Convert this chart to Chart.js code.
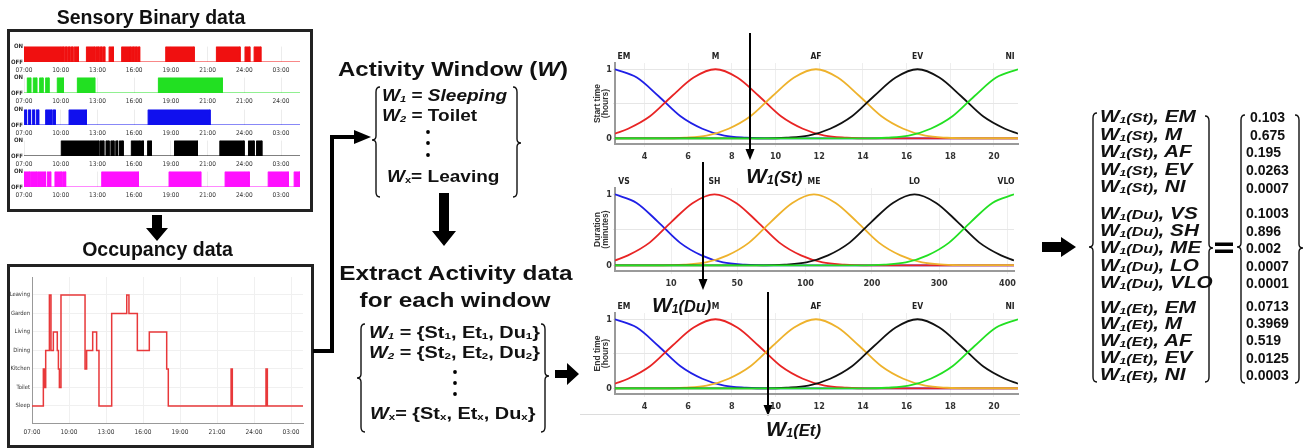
<!DOCTYPE html>
<html><head><meta charset="utf-8">
<script src="https://cdn.jsdelivr.net/npm/chart.js@4.4.0/dist/chart.umd.min.js"></script>
<style>
html,body{margin:0;padding:0;background:#fff;}
#stage{position:relative;width:1309px;height:448px;overflow:hidden;font-family:'Liberation Sans',Arial,sans-serif;}
.t{position:absolute;white-space:nowrap;font-weight:bold;color:#111;line-height:1;}
.t sub{font-size:0.58em;vertical-align:baseline;position:relative;top:0.12em;}
.t .g{font-size:0.78em;}
.box{position:absolute;border:3px solid #222;box-sizing:border-box;}
svg{position:absolute;left:0;top:0;}
</style></head><body>
<div id="stage">
  <div class="box" style="left:7px;top:29px;width:306px;height:183px"></div>
  <div class="box" style="left:7px;top:264px;width:307px;height:184px"></div>
</div>
<script>
// sensory strips: ON intervals in hours (after 24 -> next day)
const hourTicks = [7, 10, 13, 16, 19, 22, 25, 28];
const dayLabels = ['07:00', '10:00', '13:00', '16:00', '19:00', '21:00', '24:00', '03:00'];
const greenLabels = ['07:00', '10:00', '13:00', '16:00', '19:00', '21:00', '21:00', '24:00'];

const redOn = [[7.0, 10.05], [10.1, 10.25], [10.33, 10.5], [10.58, 10.75], [10.83, 11.0], [11.1, 11.45],
  [12.1, 12.8], [12.88, 13.1], [13.18, 13.35], [13.43, 13.6], [13.95, 14.3],
  [14.98, 15.7], [15.78, 15.95], [16.02, 16.2], [16.28, 16.45],
  [18.58, 20.9], [22.72, 24.65], [25.06, 25.45], [25.8, 26.35]];
const greenOn = [[7.27, 7.55], [7.76, 8.04], [8.28, 8.55], [8.77, 9.04], [9.72, 10.22], [11.36, 12.78], [17.98, 23.2]];
const blueOn = [[7.03, 7.2], [7.35, 7.52], [7.68, 7.85], [8.0, 8.2], [8.77, 9.25], [9.35, 9.55], [10.68, 12.1], [17.14, 22.2]];
const blackOn = [[10.05, 13.1], [13.2, 13.52], [13.7, 13.95], [14.1, 14.35], [14.5, 14.65], [14.8, 15.1],
  [15.77, 16.5], [16.6, 16.75], [17.1, 17.4], [19.3, 21.17], [23.0, 24.98], [25.34, 25.8], [26.0, 26.43]];
const magentaOn = [[7.0, 7.45], [7.52, 8.05], [8.12, 8.75], [8.9, 9.18], [9.53, 10.1], [10.18, 10.4],
  [13.35, 16.35], [18.85, 21.44], [23.43, 25.4], [26.95, 28.6], [29.07, 29.55]];

// occupancy: change times and new state index
const occStates = ['Sleep', 'Toilet', 'Kitchen', 'Dining', 'Living', 'Garden', 'Leaving'];
const occTimes = [7.0, 7.92, 8.0, 8.11, 8.41, 8.54, 8.73, 9.05, 9.14, 9.22, 9.35, 11.3, 11.43, 11.92, 12.24, 12.43,
  13.46, 14.68, 14.86, 15.54, 16.51, 17.92, 18.05, 23.14, 23.24, 25.97, 26.08, 28.97];
const occLevels = [0, 2, 1, 3, 6, 3, 4, 3, 2, 1, 6, 2, 3, 4, 3, 0, 5, 6, 5, 3, 4, 2, 0, 2, 0, 2, 0, 0];

// fuzzy membership curves
const timeLabels = ['EM', 'M', 'AF', 'EV', 'NI'];
const durLabels = ['VS', 'SH', 'ME', 'LO', 'VLO'];
const emPts = [[2.65, 1], [3.65, 0.88], [4.65, 0.61], [5.65, 0.32], [6.65, 0.14], [7.65, 0.04], [8.65, 0.01], [9.65, 0], [21.1, 0]];
const mPts = [[2.65, 0.07], [3.25, 0.14], [4.25, 0.32], [5.25, 0.61], [6.25, 0.88], [7.25, 1], [8.25, 0.88], [9.25, 0.61],
  [10.25, 0.32], [11.25, 0.14], [12.25, 0.04], [13.25, 0.01], [14.25, 0], [21.1, 0]];
const afPts = [[2.65, 0], [4.85, 0], [5.85, 0.01], [6.85, 0.04], [7.85, 0.14], [8.85, 0.32], [9.85, 0.61], [10.85, 0.88], [11.85, 1],
  [12.85, 0.88], [13.85, 0.61], [14.85, 0.32], [15.85, 0.14], [16.85, 0.04], [17.85, 0.01], [18.85, 0.003], [21.1, 0.003]];
const evPts = [[2.65, 0], [9.5, 0], [10.5, 0.01], [11.5, 0.04], [12.5, 0.14], [13.5, 0.32], [14.5, 0.61], [15.5, 0.88], [16.5, 1],
  [17.5, 0.88], [18.5, 0.61], [19.5, 0.32], [20.5, 0.14], [21.1, 0.07]];
const niPts = [[2.65, 0], [14.1, 0], [15.1, 0.01], [16.1, 0.04], [17.1, 0.14], [18.1, 0.32], [19.1, 0.61], [20.1, 0.88], [21.1, 1]];
const hourTickVals = [4, 6, 8, 10, 12, 14, 16, 18, 20];
const durTickPos = [5.24, 8.3, 11.46, 14.53, 17.64, 20.8];
const durTickLabels = [10, 50, 100, 200, 300, 400];

// window 1 membership degrees
const stVals = [0.103, 0.675, 0.195, 0.0263, 0.0007];
const duVals = [0.1003, 0.896, 0.002, 0.0007, 0.0001];
const etVals = [0.0713, 0.3969, 0.519, 0.0125, 0.0003];

const stage = document.getElementById('stage');
const narrow = "'Liberation Sans Narrow', 'DejaVu Sans Condensed', Arial, sans-serif";
Chart.defaults.font.family = "'Liberation Sans', Arial, sans-serif";
Chart.defaults.animation = false;

function mkCanvas(left, top, w, h) {
    const c = document.createElement('canvas');
    c.width = w; c.height = h;
    c.style.cssText = `position:absolute;left:${left}px;top:${top}px;width:${w}px;height:${h}px`;
    stage.appendChild(c);
    return c;
}

function strip(top, on, color, labels) {
    const pts = [{x: 7, y: 0}];
    on.forEach(([a, b]) => pts.push({x: a, y: 0}, {x: a, y: 1}, {x: b, y: 1}, {x: b, y: 0}));
    pts.push({x: 29.55, y: 0});
    new Chart(mkCanvas(10, top - 4, 292, 31), {
        type: 'line',
        data: {datasets: [{data: pts, borderColor: color, backgroundColor: color, borderWidth: 1, fill: 'origin', pointRadius: 0, tension: 0}]},
        options: {
            responsive: false, events: [],
            layout: {padding: {top: 4, right: 2, left: 0, bottom: 0}},
            plugins: {legend: {display: false}, tooltip: {enabled: false}},
            scales: {
                x: {type: 'linear', min: 7, max: 29.55,
                    afterBuildTicks: s => { s.ticks = hourTicks.map(v => ({value: v})); },
                    afterFit: s => { s.height = 11; },
                    border: {display: false},
                    grid: {color: '#ececec', drawTicks: false},
                    ticks: {autoSkip: false, maxRotation: 0, padding: 4, font: {size: 6.5, family: narrow}, color: '#333',
                        callback: (v, i) => labels[i]}},
                y: {min: 0, max: 1,
                    afterBuildTicks: s => { s.ticks = [{value: 0}, {value: 1}]; },
                    afterFit: s => { s.width = 14; },
                    border: {display: false}, grid: {display: false, drawTicks: false},
                    ticks: {padding: 1, font: {size: 6, weight: 'bold', family: narrow}, color: '#333',
                        callback: v => v === 1 ? 'ON' : 'OFF'}}
            }
        }
    });
}

strip(46, redOn, '#f01010', dayLabels);
strip(77, greenOn, '#22e022', greenLabels);
strip(108.5, blueOn, '#1010ee', dayLabels);
strip(140, blackOn, '#000000', dayLabels);
strip(171, magentaOn, '#ff10ff', dayLabels);

new Chart(mkCanvas(7, 270, 300, 167), {
    type: 'line',
    data: {datasets: [{data: occTimes.map((t, i) => ({x: t, y: occLevels[i]})), stepped: true,
        borderColor: '#e8383a', borderWidth: 1.5, pointRadius: 0, fill: false}]},
    options: {
        responsive: false, events: [],
        layout: {padding: {top: 7, right: 4, left: 0, bottom: 0}},
        plugins: {legend: {display: false}, tooltip: {enabled: false}},
        scales: {
            x: {type: 'linear', min: 7, max: 28.97,
                afterBuildTicks: s => { s.ticks = hourTicks.map(v => ({value: v})); },
                afterFit: s => { s.height = 14; },
                border: {color: '#999'},
                grid: {color: '#f0f0f0', drawTicks: false},
                ticks: {autoSkip: false, maxRotation: 0, padding: 5, font: {size: 6.5, family: narrow}, color: '#333',
                    callback: (v, i) => dayLabels[i]}},
            y: {min: -0.92, max: 6.97,
                afterBuildTicks: s => { s.ticks = occStates.map((n, i) => ({value: i})); },
                afterFit: s => { s.width = 25; },
                border: {color: '#999'},
                grid: {color: '#f0f0f0', drawTicks: false},
                ticks: {padding: 2, font: {size: 5.8, family: narrow}, color: '#333',
                    callback: (v, i) => occStates[i]}}
        }
    }
});

const fuzzyColors = ['#1f1fe6', '#e82424', '#eeb22c', '#111111', '#22e022'];

const nameTags = {
    id: 'nameTags',
    afterDatasetsDraw(chart) {
        const {ctx, chartArea: a, scales: {x}} = chart;
        ctx.save();
        ctx.font = `bold 8.5px ${narrow}`;
        ctx.fillStyle = '#222';
        ctx.textAlign = 'center';
        ctx.textBaseline = 'middle';
        chart.data.datasets.forEach(ds => {
            const peak = ds.data.reduce((p, q) => q.y > p.y ? q : p);
            const px = Math.min(Math.max(x.getPixelForValue(peak.x), a.left + 9), a.right - 8);
            ctx.fillText(ds.label, px, a.top - 6);
        });
        ctx.restore();
    }
};

function fuzzy(top, height, names, tickPos, tickLabels, title) {
    const curves = [emPts, mPts, afPts, evPts, niPts];
    new Chart(mkCanvas(580, top, 440, height), {
        type: 'line',
        data: {datasets: curves.map((pts, i) => ({
            label: names[i], data: pts.map(([x, y]) => ({x, y})), borderColor: fuzzyColors[i], borderWidth: 1.8,
            pointRadius: 0, fill: false, cubicInterpolationMode: 'monotone', order: curves.length - i}))},
        options: {
            responsive: false, events: [],
            layout: {padding: {top: 23, right: 2, left: 13, bottom: 0}},
            plugins: {legend: {display: false}, tooltip: {enabled: false}},
            scales: {
                x: {type: 'linear', min: 2.65, max: 21.1,
                    afterBuildTicks: s => { s.ticks = tickPos.map(v => ({value: v})); },
                    afterFit: s => { s.height = 22; },
                    border: {color: '#9a9a9a', width: 2},
                    grid: {color: '#eeeeee', tickLength: 3},
                    ticks: {autoSkip: false, maxRotation: 0, padding: 4, font: {size: 9, weight: 'bold', family: narrow}, color: '#333',
                        callback: (v, i) => String(tickLabels[i])}},
                y: {min: -0.08, max: 1.09,
                    afterBuildTicks: s => { s.ticks = [{value: 0}, {value: 0.5}, {value: 1}]; },
                    afterFit: s => { s.width = 22; },
                    border: {color: '#9a9a9a', width: 2},
                    grid: {color: '#e6e6e6', tickLength: 2},
                    title: {display: true, text: title, padding: 0, color: '#333',
                        font: {size: 8.5, weight: 'bold', lineHeight: 1}},
                    ticks: {padding: 1, font: {size: 9, weight: 'bold', family: narrow}, color: '#333',
                        callback: v => v === 0.5 ? '' : String(v)}}
            }
        },
        plugins: [nameTags]
    });
}

fuzzy(40, 126, timeLabels, hourTickVals, hourTickVals, ['Start time', '(hours)']);
fuzzy(165, 128, durLabels, durTickPos, durTickLabels, ['Duration', '(minutes)']);
fuzzy(290, 126, timeLabels, hourTickVals, hourTickVals, ['End time', '(hours)']);

// arrows, braces and other line art
const ns = 'http://www.w3.org/2000/svg';
const svg = document.createElementNS(ns, 'svg');
svg.setAttribute('width', 1309); svg.setAttribute('height', 448);
stage.appendChild(svg);
function el(tag, attrs) {
    const e = document.createElementNS(ns, tag);
    for (const k in attrs) e.setAttribute(k, attrs[k]);
    svg.appendChild(e);
    return e;
}
function brace(xTip, y1, y2, ym, dir) {
    const b = xTip + dir * 4, h = xTip + dir * 8;
    el('path', {d: `M${h},${y1} Q${b},${y1} ${b},${y1 + 5} L${b},${ym - 4} Q${b},${ym} ${xTip},${ym} Q${b},${ym} ${b},${ym + 4} L${b},${y2 - 5} Q${b},${y2} ${h},${y2}`,
        fill: 'none', stroke: '#111', 'stroke-width': 1.4});
}
// block arrows
el('polygon', {points: '152,215 162,215 162,228 168,228 157,241 146,228 152,228', fill: '#000'});
el('polyline', {points: '313,351 332,351 332,137 356,137', fill: 'none', stroke: '#000', 'stroke-width': 4});
el('polygon', {points: '354,130 371,137 354,144', fill: '#000'});
el('polygon', {points: '439,193 449,193 449,231 456,231 444,246 432,231 439,231', fill: '#000'});
el('polygon', {points: '555,370 567,370 567,363 579,374 567,385 567,378 555,378', fill: '#000'});
el('polygon', {points: '1042,242 1061,242 1061,237 1076,247 1061,257 1061,252 1042,252', fill: '#000'});
// thin arrows
[[750, 33, 160], [703, 162, 290], [768, 292, 416]].forEach(([x, a, b]) => {
    el('line', {x1: x, y1: a, x2: x, y2: b - 8, stroke: '#000', 'stroke-width': 2});
    el('polygon', {points: `${x - 4.5},${b - 11} ${x + 4.5},${b - 11} ${x},${b}`, fill: '#000'});
});
el('line', {x1: 580, y1: 414.5, x2: 1020, y2: 414.5, stroke: '#dcdcdc', 'stroke-width': 1});
// braces
brace(372, 87, 197, 140, 1); brace(521, 87, 197, 143, -1);
brace(357, 324, 432, 378, 1); brace(549, 324, 432, 376, -1);
brace(1089, 113, 382, 247, 1); brace(1213, 116, 382, 248, -1);
brace(1237, 115, 383, 247, 1); brace(1303, 115, 383, 248, -1);
el('rect', {x: 1215, y: 242.5, width: 18, height: 3.5, fill: '#000'});
el('rect', {x: 1215, y: 249.5, width: 18, height: 3.5, fill: '#000'});
// dots
[[428, [132, 143, 155]], [455, [372, 383, 394]]].forEach(([x, ys]) => ys.forEach(y => el('circle', {cx: x, cy: y, r: 1.9, fill: '#000'})));

// texts
function txt(html, x, y, size, opts = {}) {
    const d = document.createElement('div');
    d.className = 't';
    d.innerHTML = html;
    d.style.left = x + 'px'; d.style.top = y + 'px'; d.style.fontSize = size + 'px';
    const sx = opts.sx || 1;
    if (opts.left) { d.style.transformOrigin = '0 50%'; d.style.transform = `translateY(-50%) scaleX(${sx})`; }
    else d.style.transform = `translate(-50%,-50%) scaleX(${sx})`;
    stage.appendChild(d);
}
const W = s => `<i>W</i><sub><i>${s}</i></sub>`;
txt('Sensory Binary data', 151, 18, 19.5);
txt('Occupancy data', 157.5, 250, 19.5);
txt('Activity Window (<i>W</i>)', 452.5, 68, 21, {sx: 1.14});
txt(`${W(1)} = <i>Sleeping</i>`, 382, 95, 17, {left: true, sx: 1.12});
txt(`${W(2)} = Toilet`, 382, 115, 17, {left: true, sx: 1.12});
txt(`<i>W</i><sub>x</sub>= Leaving`, 387, 176, 17, {left: true, sx: 1.12});
txt('Extract Activity data', 455.5, 272, 21, {sx: 1.16});
txt('for each window', 455, 299, 21, {sx: 1.16});
txt(`${W(1)} = {St<sub>1</sub>, Et<sub>1</sub>, Du<sub>1</sub>}`, 369, 332, 17, {left: true, sx: 1.17});
txt(`${W(2)} = {St<sub>2</sub>, Et<sub>2</sub>, Du<sub>2</sub>}`, 369, 352, 17, {left: true, sx: 1.17});
txt(`<i>W</i><sub>x</sub>= {St<sub>x</sub>, Et<sub>x</sub>, Du<sub>x</sub>}`, 370, 413, 17, {left: true, sx: 1.17});
txt(`${W(1)}<i class="g">(St)</i>`, 746, 175, 21, {left: true, sx: 1.05});
txt(`${W(1)}<i class="g">(Du)</i>`, 652, 304, 21, {left: true, sx: 1.0});
txt(`${W(1)}<i class="g">(Et)</i>`, 766, 428, 21, {left: true, sx: 1.02});

const groups = [['St', timeLabels, stVals, 116, 17.5, 117, 17.7], ['Du', durLabels, duVals, 212.5, 17.4, 213, 17.5], ['Et', timeLabels, etVals, 306.5, 16.9, 306, 17.2]];
groups.forEach(([g, names, vals, y0, dy, v0, dv]) => {
    names.forEach((n, i) => {
        txt(`${W(1)}<i class="g">(${g})</i><i>, ${n}</i>`, 1100, y0 + dy * i, 17, {left: true, sx: 1.22});
        txt(String(vals[i]), g === 'St' && i < 2 ? 1250 : 1246, v0 + dv * i, 14, {left: true});
    });
});
</script>
</body></html>
